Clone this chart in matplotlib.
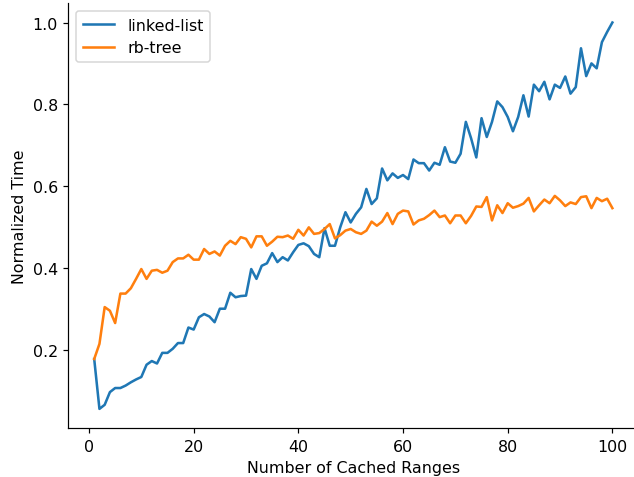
import numpy as np
import matplotlib
matplotlib.use("Agg")
import matplotlib.pyplot as plt

# number of cached ranges
x = np.arange(1, 101)

linked_list = [
    0.177, 0.055, 0.065, 0.096, 0.106, 0.106, 0.112, 0.120, 0.127, 0.133,
    0.163, 0.172, 0.166, 0.192, 0.192, 0.202, 0.216, 0.216, 0.254, 0.249,
    0.279, 0.287, 0.281, 0.267, 0.300, 0.300, 0.339, 0.328, 0.331, 0.332,
    0.397, 0.373, 0.405, 0.411, 0.436, 0.414, 0.426, 0.418, 0.438, 0.456,
    0.460, 0.453, 0.434, 0.426, 0.497, 0.454, 0.454, 0.499, 0.536, 0.511,
    0.532, 0.548, 0.593, 0.556, 0.570, 0.643, 0.614, 0.631, 0.620, 0.627,
    0.617, 0.665, 0.656, 0.656, 0.638, 0.657, 0.652, 0.695, 0.660, 0.657,
    0.679, 0.757, 0.717, 0.670, 0.766, 0.720, 0.757, 0.807, 0.793, 0.769,
    0.734, 0.769, 0.822, 0.770, 0.848, 0.832, 0.855, 0.812, 0.848, 0.840,
    0.868, 0.826, 0.842, 0.937, 0.869, 0.900, 0.888, 0.952, 0.977, 1.000,
]

rb_tree = [
    0.177, 0.214, 0.304, 0.295, 0.265, 0.337, 0.337, 0.350, 0.373, 0.397,
    0.373, 0.393, 0.395, 0.388, 0.393, 0.414, 0.423, 0.423, 0.432, 0.420,
    0.420, 0.446, 0.434, 0.440, 0.430, 0.454, 0.466, 0.458, 0.475, 0.471,
    0.450, 0.477, 0.477, 0.454, 0.464, 0.476, 0.475, 0.479, 0.471, 0.493,
    0.479, 0.499, 0.483, 0.485, 0.495, 0.507, 0.472, 0.480, 0.491, 0.495,
    0.487, 0.483, 0.491, 0.513, 0.503, 0.513, 0.534, 0.507, 0.532, 0.540,
    0.538, 0.506, 0.516, 0.520, 0.529, 0.540, 0.524, 0.528, 0.509, 0.528,
    0.528, 0.509, 0.527, 0.550, 0.549, 0.573, 0.516, 0.553, 0.534, 0.558,
    0.547, 0.551, 0.557, 0.571, 0.538, 0.553, 0.567, 0.558, 0.576, 0.565,
    0.551, 0.560, 0.556, 0.573, 0.575, 0.546, 0.571, 0.563, 0.569, 0.546,
]

plt.rcParams['font.size'] = 10.6

dpi = 108
fig = plt.figure(figsize=(634 / dpi, 478 / dpi), dpi=dpi)
# axes placed to match the original (right edge runs past the crop)
ax = fig.add_axes([68.3 / 634, 48.8 / 478, 570 / 634, 425 / 478])
ax.plot(x, linked_list, label='linked-list', lw=1.7)
ax.plot(x, rb_tree, label='rb-tree', lw=1.7)
ax.set_xlabel('Number of Cached Ranges')
ax.set_ylabel('Normalized Time')
ax.set_yticks([0.2, 0.4, 0.6, 0.8, 1.0])
ax.spines['top'].set_visible(False)
ax.spines['right'].set_visible(False)
ax.legend(loc='upper left')
fig.savefig('out.png', dpi=dpi)
